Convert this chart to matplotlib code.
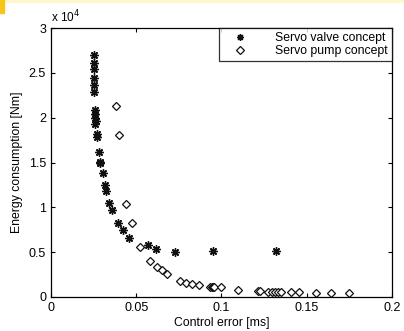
import matplotlib
matplotlib.use('Agg')
import matplotlib.pyplot as plt
from matplotlib.patches import Rectangle

plt.rcParams['font.family'] = ['Liberation Sans', 'DejaVu Sans']
plt.rcParams['font.size'] = 8.5

# Servo valve concept (stars)
valve_x = [0.0250, 0.0250, 0.0252, 0.0252, 0.0252, 0.0250, 0.0257, 0.0258, 0.0260,
           0.0262, 0.0260, 0.0268, 0.0272, 0.0282, 0.0290, 0.0288, 0.0305, 0.0315,
           0.0325, 0.0342, 0.0358, 0.0396, 0.0422, 0.0461, 0.0572, 0.0617, 0.0726,
           0.0952, 0.1323]
valve_y = [27000, 26100, 25400, 24400, 23700, 22900, 20900, 20400, 20000,
           19600, 19300, 18200, 17800, 16200, 15100, 14900, 13800, 12500,
           11800, 10500, 9700, 8300, 7500, 6600, 5800, 5300, 5000,
           5100, 5100]

# Servo pump concept (diamonds)
pump_x = [0.0383, 0.0397, 0.0442, 0.0475, 0.0523, 0.0582, 0.0621, 0.0650, 0.0680,
          0.0755, 0.0792, 0.0830, 0.0870, 0.0934, 0.0945, 0.0952, 0.0958, 0.0995,
          0.1098, 0.1215, 0.1225, 0.1274, 0.1294, 0.1313, 0.1332, 0.1352, 0.1410,
          0.1455, 0.1557, 0.1644, 0.1747]
pump_y = [21300, 18100, 10400, 8300, 5600, 4000, 3300, 3000, 2600,
          1800, 1550, 1480, 1320, 1150, 1100, 1080, 1100, 1100,
          720, 620, 620, 600, 600, 580, 600, 600, 540,
          520, 430, 430, 430]

x_ticks = [0, 0.05, 0.1, 0.15, 0.2]
x_ticklabels = ['0', '0.05', '0.1', '0.15', '0.2']
y_ticks = [0, 5000, 10000, 15000, 20000, 25000, 30000]
y_ticklabels = ['0', '0.5', '1', '1.5', '2', '2.5', '3']

fig = plt.figure(figsize=(4.04, 3.31), dpi=100)
fig.patch.set_facecolor('white')
ax = fig.add_axes([0.126, 0.103, 0.844, 0.812])

ax.plot(valve_x, valve_y, linestyle='none', marker=(8, 2, 0), markersize=6,
        markeredgewidth=1.0, color='#111111', label='Servo valve concept')
ax.plot(pump_x, pump_y, linestyle='none', marker='D', markersize=4.5,
        markerfacecolor='white', markeredgecolor='#111111', markeredgewidth=0.9,
        label='Servo pump concept')

ax.set_xlim(0, 0.2)
ax.set_ylim(0, 30000)
ax.set_xticks(x_ticks)
ax.set_xticklabels(x_ticklabels)
ax.set_yticks(y_ticks)
ax.set_yticklabels(y_ticklabels)
ax.tick_params(direction='in', top=True, right=True, length=3, width=0.8,
               labelsize=9)
for s in ax.spines.values():
    s.set_linewidth(0.9)

ax.set_xlabel('Control error [ms]', fontsize=8.8, labelpad=2)
ax.set_ylabel('Energy consumption [Nm]', fontsize=8.8, labelpad=4)
ax.text(0.0, 1.012, r'x 10$^4$', transform=ax.transAxes, fontsize=8.5,
        ha='left', va='bottom')

leg = ax.legend(loc='upper right', frameon=True, fancybox=False, fontsize=8.8,
                borderpad=0.35, handletextpad=1.6, labelspacing=0.05,
                borderaxespad=0, markerscale=0.8, handlelength=2.6)
leg.get_frame().set_edgecolor('black')
leg.get_frame().set_linewidth(0.9)

# scan artefacts at the top edge
fig.patches.append(Rectangle((0, 1 - 2 / 331), 1, 2 / 331, transform=fig.transFigure,
                             color='#fff6d2', zorder=0))
fig.patches.append(Rectangle((0, 1 - 13 / 331), 4 / 404, 13 / 331,
                             transform=fig.transFigure, color='#f5c518', zorder=1))

fig.savefig('out.png', dpi=100)
